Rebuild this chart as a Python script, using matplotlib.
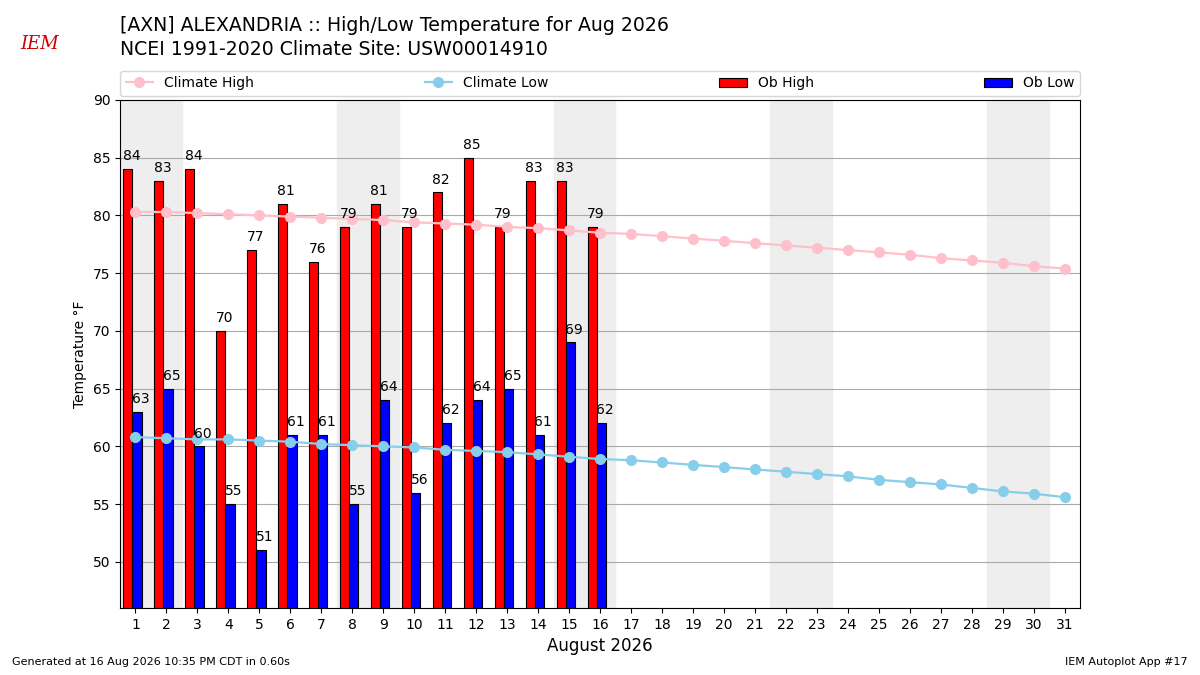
import numpy as np
import matplotlib
matplotlib.use('Agg')
import matplotlib.pyplot as plt

# observed data, Aug 1..16
days_obs = list(range(1, 17))
ob_high = [84, 83, 84, 70, 77, 81, 76, 79, 81, 79, 82, 85, 79, 83, 83, 79]
ob_low = [63, 65, 60, 55, 51, 61, 61, 55, 64, 56, 62, 64, 65, 61, 69, 62]

# climatology, Aug 1..31
days = list(range(1, 32))
clim_high = [80.3, 80.3, 80.2, 80.1, 80.0, 79.9, 79.8, 79.7, 79.6, 79.4,
             79.3, 79.2, 79.0, 78.9, 78.7, 78.5, 78.4, 78.2, 78.0, 77.8,
             77.6, 77.4, 77.2, 77.0, 76.8, 76.6, 76.3, 76.1, 75.9, 75.6,
             75.4]
clim_low = [60.8, 60.7, 60.6, 60.6, 60.5, 60.4, 60.2, 60.1, 60.0, 59.9,
            59.7, 59.6, 59.5, 59.3, 59.1, 58.9, 58.8, 58.6, 58.4, 58.2,
            58.0, 57.8, 57.6, 57.4, 57.1, 56.9, 56.7, 56.4, 56.1, 55.9,
            55.6]
weekends = [1, 8, 15, 22, 29]

fig = plt.figure(figsize=(12, 6.75), dpi=100)
ax = fig.add_axes([0.1, 0.0993, 0.8, 0.7526])

for w in weekends:
    ax.axvspan(w - 0.5, w + 1.5, color='#eeeeee', zorder=0)

ax.plot(days, clim_high, color='pink', marker='o', markersize=7,
        linewidth=1.6, label='Climate High', zorder=3)
ax.plot(days, clim_low, color='skyblue', marker='o', markersize=7,
        linewidth=1.6, label='Climate Low', zorder=3)

x = np.array(days_obs)
ax.bar(x - 0.4, ob_high, width=0.3, align='edge', color='red',
       edgecolor='black', linewidth=0.8, label='Ob High', zorder=2)
ax.bar(x - 0.1, ob_low, width=0.3, align='edge', color='blue',
       edgecolor='black', linewidth=0.8, label='Ob Low', zorder=2)
for xi, h, l in zip(x, ob_high, ob_low):
    ax.text(xi - 0.13, h + 0.5, '%d' % h, ha='center', va='bottom',
            fontsize=10, zorder=4)
    ax.text(xi + 0.17, l + 0.5, '%d' % l, ha='center', va='bottom',
            fontsize=10, zorder=4)

ax.set_xlim(0.5, 31.5)
ax.set_ylim(46, 90)
ax.set_xticks(days)
ax.set_yticks(range(50, 91, 5))
ax.yaxis.grid(True, color='#aaaaaa', linewidth=0.8)
ax.set_axisbelow(True)
ax.set_xlabel('August 2026', fontsize=12)
ax.set_ylabel('Temperature °F')

ax.legend(loc='lower left', bbox_to_anchor=(0, 1.008, 1, 0.05),
          mode='expand', ncol=4, borderaxespad=0, fontsize=10)

fig.text(0.1, 0.962, '[AXN] ALEXANDRIA :: High/Low Temperature for Aug 2026',
         fontsize=13.6, va='center')
fig.text(0.1, 0.926, 'NCEI 1991-2020 Climate Site: USW00014910',
         fontsize=13.6, va='center')
fig.text(0.033, 0.935, 'IEM', color='#cc0000', fontsize=13,
         family='serif', style='italic', ha='center', va='center')
fig.text(0.01, 0.015, 'Generated at 16 Aug 2026 10:35 PM CDT in 0.60s',
         fontsize=8)
fig.text(0.99, 0.015, 'IEM Autoplot App #17', fontsize=8, ha='right')

fig.savefig('out.png', dpi=100)
